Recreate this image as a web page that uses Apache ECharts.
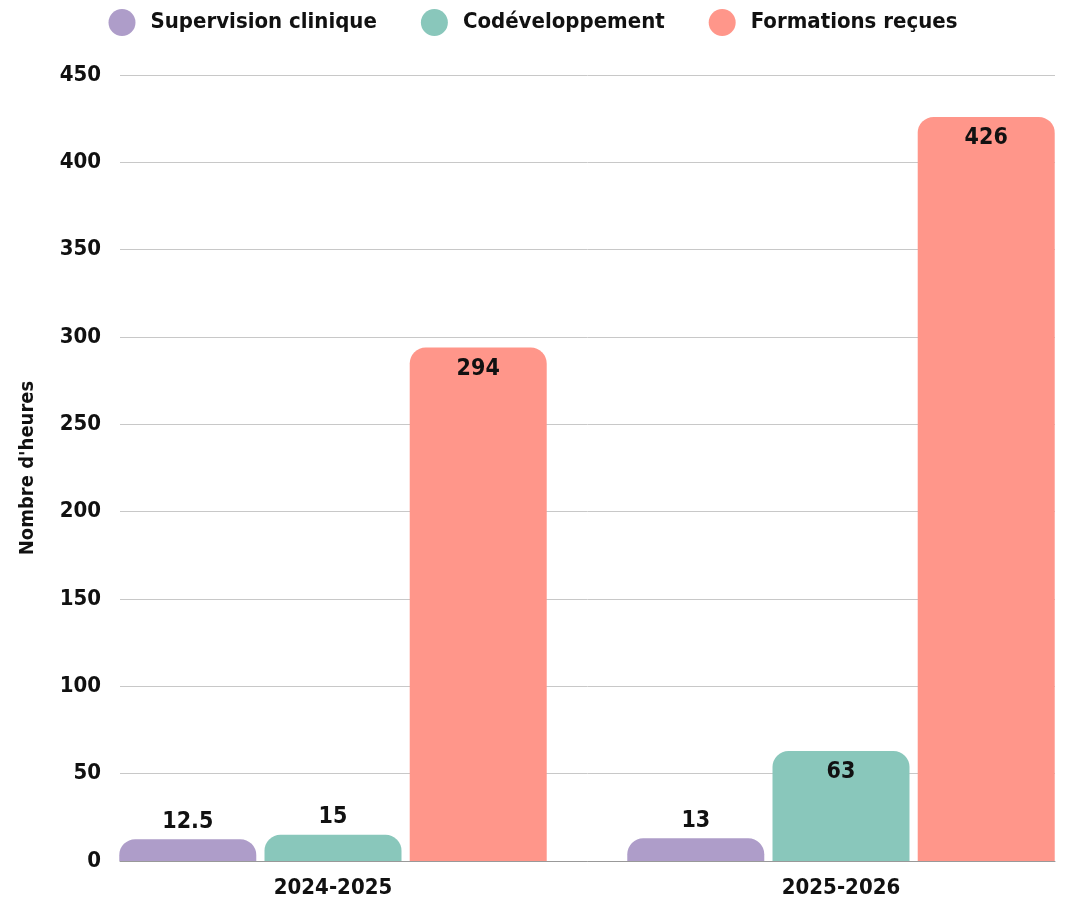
<!DOCTYPE html>
<html><head><meta charset="utf-8">
<script src="https://cdn.jsdelivr.net/npm/echarts@6/dist/echarts.min.js"></script>
<style>html,body{margin:0;padding:0;background:#fff}#c{width:1066px;height:903px}</style>
</head><body><div id="c"></div>
<script>
const categories = ['2024-2025', '2025-2026'];
const seriesNames = ['Supervision clinique', 'Codéveloppement', 'Formations reçues'];
const supervision = [12.5, 13];
const codev = [15, 63];
const formations = [294, 426];
const yTicks = [0, 50, 100, 150, 200, 250, 300, 350, 400, 450];
const colors = ['#AE9DC9', '#89C7BB', '#FF968A'];
const FONT = '"Liberation Sans Narrow", "DejaVu Sans Condensed", sans-serif';

function items(vals) {
  return vals.map(v => ({
    value: v,
    label: v > 40 ? { position: 'insideTop', distance: 10 } : { position: 'top', distance: 6 }
  }));
}
const data = [supervision, codev, formations];
const yMin = yTicks[0], yMax = yTicks[yTicks.length - 1];
const chart = echarts.init(document.getElementById('c'));
chart.setOption({
  animation: false,
  textStyle: { fontFamily: FONT },
  legend: {
    top: 4, left: 'center', itemWidth: 27, itemHeight: 27, itemGap: 44, icon: 'circle',
    textStyle: { fontFamily: FONT, fontWeight: 'bold', fontSize: 22, color: '#111', padding: [0, 0, 0, 10] },
    data: seriesNames
  },
  grid: [
    { left: 120, right: 11, top: 75, bottom: 42, outerBoundsMode: 'none' },
    { left: 79, width: 1016, top: 75, bottom: 42, outerBoundsMode: 'none' }
  ],
  xAxis: [
    {
      gridIndex: 0, type: 'category', data: categories,
      axisLine: { lineStyle: { color: '#999' } }, axisTick: { show: false },
      axisLabel: { show: false }
    },
    {
      gridIndex: 1, type: 'category', data: categories,
      axisLine: { show: false }, axisTick: { show: false },
      axisLabel: { fontFamily: FONT, fontWeight: 'bold', fontSize: 22, color: '#111', margin: 16 }
    }
  ],
  yAxis: [
    {
      gridIndex: 0, type: 'value', min: yMin, max: yMax, interval: 50,
      name: "Nombre d'heures", nameLocation: 'middle', nameGap: 82, nameRotate: 90,
      nameTextStyle: { fontFamily: FONT, fontWeight: 'bold', fontSize: 20, color: '#111' },
      axisLine: { show: false }, axisTick: { show: false },
      splitLine: { lineStyle: { color: '#c8c8c8' } },
      axisLabel: { fontFamily: FONT, fontWeight: 'bold', fontSize: 22, color: '#111', margin: 19 }
    },
    {
      gridIndex: 1, type: 'value', min: yMin, max: yMax, interval: 50,
      axisLine: { show: false }, axisTick: { show: false },
      splitLine: { show: false }, axisLabel: { show: false }
    }
  ],
  series: seriesNames.map((n, i) => ({
    name: n, type: 'bar', data: items(data[i]),
    xAxisIndex: 1, yAxisIndex: 1,
    barWidth: 137, barGap: '6%',
    itemStyle: { color: colors[i], borderRadius: [16, 16, 0, 0] },
    label: { show: true, fontFamily: FONT, fontWeight: 'bold', fontSize: 23, color: '#111' }
  }))
});
</script></body></html>
